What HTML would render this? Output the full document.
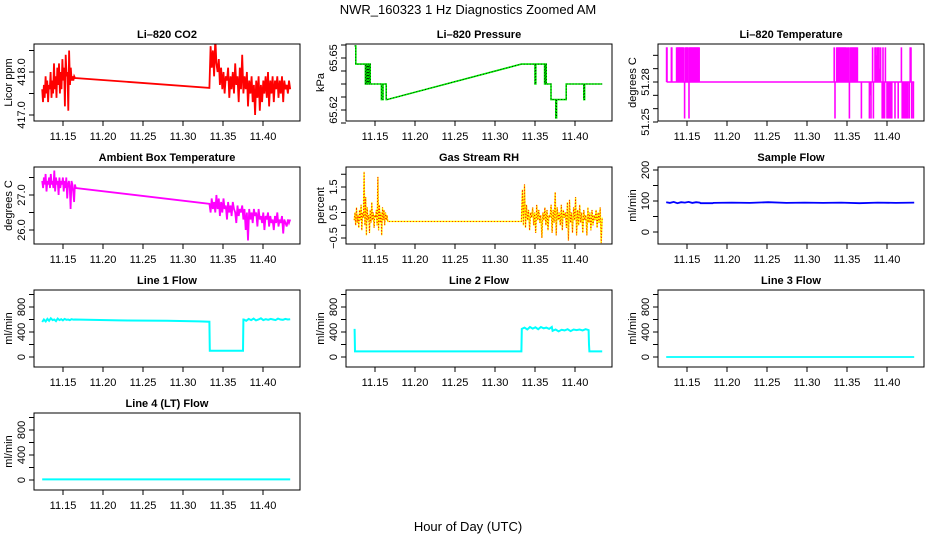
<!DOCTYPE html>
<html><head><meta charset="utf-8"><style>
body{margin:0;background:#fff}
svg{display:block;font-family:"Liberation Sans",sans-serif}
</style></head><body>
<svg id="c" width="936" height="540" viewBox="0 0 936 540">
<text x="468" y="14" font-size="13" text-anchor="middle">NWR_160323  1 Hz Diagnostics Zoomed AM</text>
<text x="468" y="531" font-size="13" text-anchor="middle">Hour of Day (UTC)</text>
</svg>
<script>
// ---- data ----
const xTicks=[11.15,11.20,11.25,11.30,11.35,11.40];
const xTickLabels=["11.15","11.20","11.25","11.30","11.35","11.40"];
const co2A=[417.6,417.3,417.7,417.4,417.9,417.5,417.8,417.3,417.7,417.6,418.0,417.4,417.8,417.5,418.2,417.6,417.9,417.4,418.1,417.7,418.2,417.5,418.0,417.6,418.3,417.8,418.1,417.2,418.4,417.9,418.0,417.1,418.5,417.7,418.1,417.8,417.9,417.8,417.9,417.86];
const co2B=[417.63,418.6,418.1,418.5,417.9,418.8,418.2,418.0,418.3,417.7,418.1,417.6,418.0,417.5,417.9,417.8,418.1,417.4,417.9,417.6,418.0,417.5,418.2,417.7,417.9,417.3,418.1,417.6,418.4,417.5,417.9,417.6,418.0,417.2,417.8,417.5,417.9,417.3,417.7,417.0,417.8,417.4,417.9,417.1,417.7,417.3,417.8,417.5,417.9,417.4,418.0,417.2,417.8,417.5,417.9,417.3,417.8,417.6,417.9,417.4,417.8,417.5,417.9,417.3,417.8,417.6,417.7,417.5,417.8,417.6];
const presT=[11.1245,11.126,11.138,11.139,11.140,11.141,11.142,11.143,11.144,11.158,11.160,11.164,11.165,11.333,11.350,11.351,11.362,11.363,11.364,11.370,11.376,11.377,11.389,11.411,11.412,11.434];
const presV=[65.657,65.6465,65.635,65.6465,65.635,65.6465,65.635,65.6465,65.635,65.626,65.635,65.626,65.626,65.6465,65.635,65.6465,65.635,65.6465,65.635,65.626,65.6155,65.626,65.635,65.626,65.635,65.635];
const tempSpikeT=[11.1245,11.125,11.1305,11.131,11.137,11.1378,11.1386,11.1394,11.1402,11.141,11.1418,11.1426,11.1434,11.1442,11.145,11.1458,11.147,11.148,11.1488,11.1496,11.1504,11.1512,11.1525,11.153,11.1538,11.1546,11.1554,11.1562,11.157,11.158,11.1588,11.1596,11.1604,11.1612,11.162,11.1628,11.1636,11.1644,11.1652,11.334,11.335,11.337,11.338,11.339,11.340,11.341,11.342,11.343,11.344,11.345,11.346,11.347,11.348,11.349,11.351,11.352,11.353,11.354,11.355,11.356,11.357,11.358,11.359,11.360,11.361,11.362,11.363,11.368,11.378,11.379,11.380,11.382,11.383,11.385,11.386,11.387,11.388,11.389,11.390,11.391,11.392,11.394,11.395,11.396,11.397,11.398,11.400,11.401,11.402,11.403,11.404,11.405,11.406,11.410,11.414,11.418,11.419,11.421,11.422,11.423,11.424,11.425,11.426,11.428,11.429,11.430,11.431,11.433];
const tempSpikeV=[51.306,51.306,51.306,51.306,51.306,51.306,51.306,51.306,51.306,51.306,51.306,51.306,51.306,51.306,51.306,51.306,51.2526,51.306,51.306,51.306,51.306,51.306,51.2526,51.306,51.306,51.306,51.306,51.306,51.306,51.306,51.306,51.306,51.306,51.306,51.306,51.306,51.306,51.306,51.306,51.306,51.2526,51.306,51.306,51.306,51.306,51.306,51.306,51.306,51.306,51.306,51.306,51.306,51.306,51.306,51.306,51.306,51.2526,51.306,51.306,51.306,51.306,51.306,51.306,51.306,51.306,51.306,51.306,51.2526,51.2526,51.27,51.2526,51.306,51.2526,51.306,51.306,51.30,51.306,51.306,51.306,51.29,51.306,51.2526,51.306,51.2526,51.2526,51.306,51.2526,51.2526,51.2526,51.2526,51.2526,51.2526,51.2526,51.2526,51.2526,51.306,51.2526,51.2526,51.2526,51.2526,51.2526,51.2526,51.2526,51.2526,51.306,51.306,51.2526,51.2526];
const ambA=[27.4,27.2,27.5,27.3,27.6,27.1,27.4,27.3,27.5,27.2,27.6,27.3,27.4,27.2,27.7,27.1,27.5,27.3,27.4,27.0,27.5,27.2,27.4,27.3,27.5,27.1,27.4,27.2,27.5,26.9,27.3,27.4,27.2,26.6,27.4,27.3,27.1,26.8,27.3,27.2];
const ambB=[26.75,26.5,26.9,26.6,26.8,26.5,27.0,26.6,26.9,26.4,26.8,26.5,26.9,26.6,26.7,26.3,26.8,26.5,26.7,26.4,26.8,26.6,26.5,26.2,26.7,26.4,26.6,26.5,26.7,26.3,26.6,26.0,26.5,25.7,26.6,26.3,26.5,26.2,26.6,26.4,26.5,26.1,26.6,26.3,26.4,26.2,26.5,26.0,26.4,26.3,26.5,26.1,26.4,26.2,26.3,26.0,26.4,26.2,26.5,26.1,26.3,26.2,26.4,25.9,26.3,26.2,26.1,26.3,26.2,26.3];
const rhA=[0.2,0.5,0.0,0.7,0.1,0.4,-0.1,0.6,0.2,0.8,-0.2,0.5,0.3,2.1,0.0,1.1,-0.4,0.7,0.2,0.4,-0.3,0.6,0.1,0.9,0.2,0.5,-0.1,0.4,0.3,0.6,0.0,1.9,-0.2,0.8,0.1,0.5,-0.4,0.7,0.2,0.6,0.0,0.5,0.2,0.4,0.15];
const rhB=[0.15,1.4,0.0,1.6,-0.1,0.8,0.2,0.6,-0.2,0.5,0.3,0.7,0.0,0.5,-0.3,0.8,0.2,0.6,0.1,0.4,-0.5,0.5,0.2,0.7,0.0,0.6,-0.2,0.4,0.3,0.8,-0.3,0.6,0.1,1.3,-0.4,0.7,0.2,0.5,0.0,0.8,-0.2,0.6,0.3,0.5,-0.1,0.9,-0.6,1.0,0.1,0.5,-0.3,0.7,0.2,1.1,-0.4,0.6,0.0,0.8,0.1,0.5,-0.3,0.6,0.2,0.4,-0.4,0.7,0.1,0.5,-0.2,0.6,0.0,0.4,0.2,0.6,-0.1,0.5,0.1,0.7,-0.7,0.3];
const sampA=[96,94,97,93,96,95,97,94,96,95];
const sampB=[94,95,94,96,94,95,94,95,93,95,94,95];
const l1A=[560,600,570,610,580,620,590,600,575,615,590,605,585,610,595,600,590,605,598,600];
const l1midT=[11.18,11.22,11.28,11.32,11.333,11.3335,11.375,11.3755];
const l1midV=[595,585,580,570,565,100,100,600];
const l1B=[600,580,610,590,615,585,600,620,590,605,595,610,600,590,615,600,595,610,600,605];
const l2A=[450,470,440,480,455,475,445,480,460,470,450,480];
const l2B=[420,440,410,435,425,445,415,440,430,440,425,445,430];
const l3V=[0,0];
const l4V=[10,10];

// ---- geometry ----
const NS="http://www.w3.org/2000/svg";
const svg=document.getElementById('c');
const colLeft=[34,346,658], rowTop=[44,167,290,413], BW=266, BH=77;
function sx(col,t){return colLeft[col]+29+(t-11.15)*800;}
function mk(tag,at,parent){const e=document.createElementNS(NS,tag);for(const k in at)e.setAttribute(k,at[k]);(parent||svg).appendChild(e);return e;}
function even(t0,t1,vals){return vals.map((v,i)=>[t0+(t1-t0)*i/(vals.length-1),v]);}
function zip(ts,vs){return ts.map((t,i)=>[t,vs[i]]);}

function panel(p){
  const g=mk('g',{});
  
  
  const L=colLeft[p.col],T=rowTop[p.row];
  const sy=v=>T+p.a[1]+(v-p.a[0])*(p.b[1]-p.a[1])/(p.b[0]-p.a[0]);
  const t=mk('text',{x:L+BW/2,y:T-6,'font-size':11,'font-weight':'bold','text-anchor':'middle'},g);t.textContent=p.title;
  
  
  const cp=mk('clipPath',{id:'cl'+p.name},g);mk('rect',{x:L,y:T,width:BW,height:BH},cp);
  const dg=mk('g',{'clip-path':'url(#cl'+p.name+')'},g);
  p.draw(dg,t0=>sx(p.col,t0),sy);
  const box=mk('rect',{x:L,y:T,width:BW,height:BH,fill:'none',stroke:'#000'},g);
  
  
  const xa=mk('g',{},g);
  
  
  const B=T+BH;
  xTicks.forEach((v,i)=>{const x=sx(p.col,v);mk('line',{x1:x,x2:x,y1:B,y2:B+5,stroke:'#000'},xa);
    const l=mk('text',{x:x,y:B+19,'font-size':11,'text-anchor':'middle'},xa);l.textContent=xTickLabels[i];});
  const ya=mk('g',{},g);
  
  
  const A=L;
  mk('line',{x1:A,x2:A,y1:Math.min(sy(p.yt[0]),T+BH),y2:Math.max(sy(p.yt[p.yt.length-1]),T),stroke:'#000'},ya);
  p.yt.forEach(v=>{const y=sy(v);mk('line',{x1:A-5,x2:A,y1:y,y2:y,stroke:'#000'},ya);});
  p.yl.forEach((s,i)=>{const y=sy(p.ylv[i]);const l=mk('text',{x:0,y:0,'font-size':11,'text-anchor':'middle',transform:`translate(${L-9},${y}) rotate(-90)`},ya);l.textContent=s;});
  const yl=mk('text',{x:0,y:0,'font-size':11,'text-anchor':'middle',transform:`translate(${L-22},${T+BH/2}) rotate(-90)`},g);yl.textContent=p.ylab;
  
  
}
function pl(g,pts,fx,fy,col,w,extra){const e=mk('polyline',Object.assign({points:pts.map(p=>fx(p[0]).toFixed(1)+','+fy(p[1]).toFixed(1)).join(' '),fill:'none',stroke:col,'stroke-width':w,'stroke-linejoin':'miter'},extra||{}),g);return e;}

panel({name:'co2',col:0,row:0,title:'Li\u2013820 CO2',ylab:'Licor ppm',a:[418,28],b:[417,71],yt:[417,417.5,418,418.5],yl:['417.0','418.0'],ylv:[417,418],
 draw:(g,fx,fy)=>{const pts=even(11.124,11.165,co2A).concat(even(11.333,11.434,co2B));
  const e=pl(g,pts,fx,fy,'#ff0000',1.8);
  
  }});
panel({name:'pressure',col:1,row:0,title:'Li\u2013820 Pressure',ylab:'kPa',a:[65.65,14],b:[65.62,66],yt:[65.6125,65.62,65.6275,65.635,65.6425,65.65,65.6575],yl:['65.62','65.65'],ylv:[65.62,65.65],
 draw:(g,fx,fy)=>{const raw=zip(presT,presV);const pts=[];raw.forEach((p,i)=>{if(i===13){pts.push(p);}else if(i>0){pts.push([p[0],raw[i-1][1]]);pts.push(p);}else pts.push(p);});
  const e=pl(g,pts,fx,fy,'#00ee00',1.6);
  
  
  pl(g,pts,fx,fy,'#000',0.8,{'stroke-dasharray':'1,2'});}});
panel({name:'licor-temp',col:2,row:0,title:'Li\u2013820 Temperature',ylab:'degrees C',a:[51.28,38],b:[51.25,78],yt:[51.25,51.26,51.27,51.28,51.29,51.30],yl:['51.25','51.28'],ylv:[51.25,51.28],
 draw:(g,fx,fy)=>{const e=pl(g,[[11.1245,51.28],[11.434,51.28]],fx,fy,'#ff00ff',1.5);
  
  
  tempSpikeT.forEach((t,i)=>{const s=mk('line',{x1:fx(t),x2:fx(t),y1:fy(51.28),y2:fy(tempSpikeV[i]),stroke:'#ff00ff','stroke-width':1.6},g);
   
   });}});
panel({name:'ambient-temp',col:0,row:1,title:'Ambient Box Temperature',ylab:'degrees C',a:[27,28],b:[26,63],yt:[26,26.5,27,27.5],yl:['26.0','27.0'],ylv:[26,27],
 draw:(g,fx,fy)=>{const pts=even(11.124,11.166,ambA).concat(even(11.333,11.434,ambB));
  const e=pl(g,pts,fx,fy,'#ff00ff',1.8);
  
  }});
panel({name:'rh',col:1,row:1,title:'Gas Stream RH',ylab:'percent',a:[1.5,20],b:[-0.5,71],yt:[-0.5,0,0.5,1,1.5,2],yl:['\u22120.5','0.5','1.5'],ylv:[-0.5,0.5,1.5],
 draw:(g,fx,fy)=>{const pts=even(11.124,11.166,rhA).concat(even(11.333,11.434,rhB));
  const e=pl(g,pts,fx,fy,'#ffff00',1.4);
  
  
  pl(g,pts,fx,fy,'#ff0000',0.9,{'stroke-dasharray':'1,2'});}});
panel({name:'sample-flow',col:2,row:1,title:'Sample Flow',ylab:'ml/min',a:[200,3],b:[0,65],yt:[0,50,100,150,200],yl:['0','100','200'],ylv:[0,100,200],
 draw:(g,fx,fy)=>{const pts=even(11.124,11.166,sampA).concat([[11.167,93],[11.182,93]]).concat(even(11.183,11.434,sampB));
  const e=pl(g,pts,fx,fy,'#0000ff',1.8);
  
  }});
const flowAx={a:[800,17],b:[0,67],yt:[0,200,400,600,800,1000],yl:['0','400','800'],ylv:[0,400,800]};
panel(Object.assign({name:'line1-flow',col:0,row:2,title:'Line 1 Flow',ylab:'ml/min',
 draw:(g,fx,fy)=>{const pts=even(11.124,11.165,l1A).concat(zip(l1midT,l1midV)).concat(even(11.376,11.434,l1B));
  const e=pl(g,pts,fx,fy,'#00ffff',2);
  
  }},flowAx));
panel(Object.assign({name:'line2-flow',col:1,row:2,title:'Line 2 Flow',ylab:'ml/min',
 draw:(g,fx,fy)=>{const pts=[[11.1245,450],[11.125,90],[11.333,90]].concat(even(11.3335,11.371,l2A)).concat(even(11.372,11.417,l2B)).concat([[11.4175,200],[11.418,90],[11.434,90]]);
  const e=pl(g,pts,fx,fy,'#00ffff',2);
  
  }},flowAx));
panel(Object.assign({name:'line3-flow',col:2,row:2,title:'Line 3 Flow',ylab:'ml/min',
 draw:(g,fx,fy)=>{const e=pl(g,even(11.124,11.434,l3V),fx,fy,'#00ffff',1.8);
  
  }},flowAx));
panel(Object.assign({name:'line4-flow',col:0,row:3,title:'Line 4 (LT) Flow',ylab:'ml/min',
 draw:(g,fx,fy)=>{const e=pl(g,even(11.124,11.434,l4V),fx,fy,'#00ffff',2);
  
  }},flowAx));
</script>
</body></html>
